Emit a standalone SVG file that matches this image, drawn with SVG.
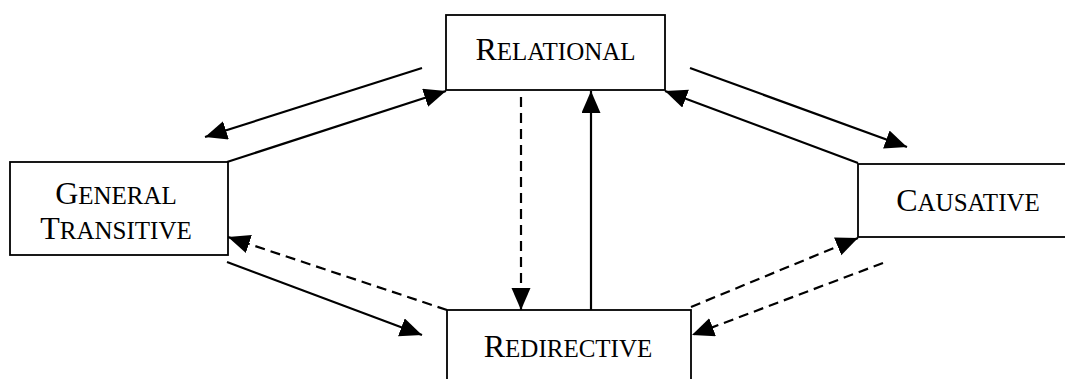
<svg xmlns="http://www.w3.org/2000/svg" width="1065" height="379" viewBox="0 0 1065 379">
<style>
.box{fill:#fff;stroke:#000;stroke-width:1.8}
.lbl{font-family:"Liberation Serif","Times New Roman",serif;font-size:32px;fill:#000;text-anchor:middle}
.sc{font-size:25px}
.ln{fill:none;stroke:#000;stroke-width:2.2}
.dash{stroke-dasharray:10 6}
</style>
<defs>
<marker id="ah" markerUnits="userSpaceOnUse" markerWidth="24" markerHeight="20" refX="22" refY="9.5" orient="auto">
<path d="M0,0 L22,9.5 L0,19 Z" fill="#000"/>
</marker>
</defs>
<rect width="1065" height="379" fill="#fff"/>
<g id="connectors">
<line class="ln" x1="422" y1="68" x2="205" y2="137" marker-end="url(#ah)"/>
<line class="ln" x1="227" y1="162" x2="446" y2="91" marker-end="url(#ah)"/>
<line class="ln dash" x1="447" y1="310" x2="228" y2="237" marker-end="url(#ah)"/>
<line class="ln" x1="227" y1="262" x2="422" y2="335" marker-end="url(#ah)"/>
<line class="ln dash" x1="521" y1="97" x2="521" y2="310" marker-end="url(#ah)"/>
<line class="ln" x1="591" y1="310" x2="591" y2="91" marker-end="url(#ah)"/>
<line class="ln" x1="690" y1="68" x2="907" y2="147" marker-end="url(#ah)"/>
<line class="ln" x1="858" y1="163" x2="665" y2="91" marker-end="url(#ah)"/>
<line class="ln dash" x1="691" y1="307" x2="858" y2="238" marker-end="url(#ah)"/>
<line class="ln dash" x1="883" y1="263" x2="692" y2="335" marker-end="url(#ah)"/>
</g>
<g id="relational">
<rect class="box" x="446" y="15" width="219" height="75"/>
<text class="lbl" x="555.5" y="60">R<tspan class="sc">ELATIONAL</tspan></text>
</g>
<g id="general-transitive">
<rect class="box" x="10" y="162" width="218" height="93"/>
<text class="lbl" x="116" y="204">G<tspan class="sc">ENERAL</tspan></text>
<text class="lbl" x="116" y="239">T<tspan class="sc">RANSITIVE</tspan></text>
</g>
<g id="causative">
<rect class="box" x="858" y="164" width="220" height="73"/>
<text class="lbl" x="968" y="211">C<tspan class="sc">AUSATIVE</tspan></text>
</g>
<g id="redirective">
<rect class="box" x="447" y="310" width="244" height="85"/>
<text class="lbl" x="568" y="357">R<tspan class="sc">EDIRECTIVE</tspan></text>
</g>
</svg>
